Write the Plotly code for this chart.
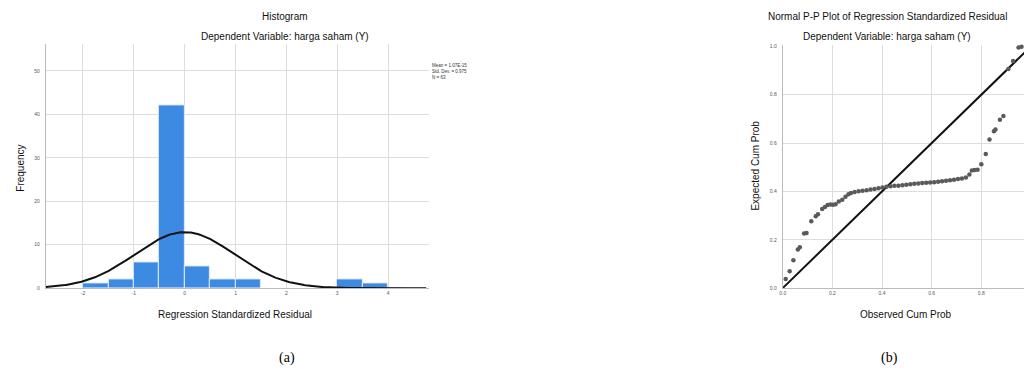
import numpy as np
import plotly.graph_objects as go

# ---- Histogram of standardized residuals ----
bin_left = [-2.0, -1.5, -1.0, -0.5, 0.0, 0.5, 1.0, 3.0, 3.5]
bin_counts = [1, 2, 6, 42, 5, 2, 2, 2, 1]
bin_width = 0.5
resid_mean = 0.0
resid_sd = 0.975
n_obs = 63
hist_xticks = [-2, -1, 0, 1, 2, 3, 4]
hist_yticks = [0, 10, 20, 30, 40, 50]

# ---- Normal P-P plot ----
observed_cum = [0.012, 0.028, 0.043, 0.061, 0.069, 0.086, 0.096, 0.115, 0.133, 0.142,
                0.159, 0.170, 0.181, 0.192, 0.203, 0.213, 0.226, 0.240, 0.253, 0.265,
                0.275, 0.290, 0.306, 0.322, 0.338, 0.354, 0.370, 0.386, 0.402, 0.418,
                0.434, 0.450, 0.466, 0.482, 0.498, 0.514, 0.530, 0.546, 0.562, 0.578,
                0.594, 0.610, 0.626, 0.642, 0.658, 0.674, 0.690, 0.706, 0.722, 0.738,
                0.752, 0.762, 0.773, 0.785, 0.800, 0.818, 0.833, 0.851, 0.857, 0.875,
                0.889, 0.909, 0.928, 0.950, 0.962, 0.975, 0.990]
expected_cum = [0.038, 0.070, 0.115, 0.160, 0.169, 0.226, 0.228, 0.277, 0.297, 0.306,
                0.327, 0.336, 0.344, 0.346, 0.345, 0.347, 0.358, 0.366, 0.378, 0.388,
                0.394, 0.398, 0.401, 0.403, 0.405, 0.408, 0.410, 0.413, 0.416, 0.419,
                0.421, 0.423, 0.424, 0.426, 0.428, 0.430, 0.432, 0.433, 0.435, 0.436,
                0.437, 0.438, 0.440, 0.442, 0.444, 0.446, 0.448, 0.451, 0.454, 0.458,
                0.470, 0.487, 0.489, 0.490, 0.512, 0.555, 0.615, 0.649, 0.656, 0.697,
                0.712, 0.906, 0.940, 0.995, 0.998, 1.000, 1.000]
pp_ticks = [0.0, 0.2, 0.4, 0.6, 0.8, 1.0]
pp_ticklabels = ["0.0", "0.2", "0.4", "0.6", "0.8", "1.0"]

W, H = 1024, 376
def px(x):
    return x / W
def py(y):
    return 1 - y / H

fig = go.Figure()

# histogram bars
bin_centers = [b + bin_width / 2 for b in bin_left]
fig.add_trace(go.Bar(
    x=bin_centers, y=bin_counts, width=bin_width,
    marker=dict(color="#3d8ae3", line=dict(color="#dfeaf8", width=1)),
    xaxis="x", yaxis="y", showlegend=False,
))

# fitted normal curve
xs = np.linspace(-2.73, 4.75, 300)
curve = n_obs * bin_width / (resid_sd * np.sqrt(2 * np.pi)) * np.exp(-0.5 * ((xs - resid_mean) / resid_sd) ** 2)
fig.add_trace(go.Scatter(
    x=xs, y=curve, mode="lines", line=dict(color="#111111", width=2),
    xaxis="x", yaxis="y", showlegend=False, cliponaxis=False,
))

# P-P reference diagonal
fig.add_trace(go.Scatter(
    x=[0, 1], y=[0, 1], mode="lines", line=dict(color="#111111", width=2),
    xaxis="x2", yaxis="y2", showlegend=False,
))
# P-P points
fig.add_trace(go.Scatter(
    x=observed_cum, y=expected_cum, mode="markers",
    marker=dict(color="#5a5a5a", size=4.5, line=dict(width=0)),
    xaxis="x2", yaxis="y2", showlegend=False, cliponaxis=False,
))

tick_font = dict(family="Liberation Sans, Arial, sans-serif", size=5, color="#555555")
grid = "#dddddd"

fig.update_layout(
    width=W, height=H,
    margin=dict(l=0, r=0, t=0, b=0),
    paper_bgcolor="white", plot_bgcolor="white",
    bargap=0,
    font=dict(family="Liberation Sans, Arial, sans-serif", color="#111111"),
    xaxis=dict(
        domain=[px(43), px(427)], range=[-2.73, 4.8],
        tickvals=hist_xticks, ticktext=[str(t) for t in hist_xticks],
        tickfont=tick_font, showgrid=True, gridcolor=grid, gridwidth=1,
        zeroline=False, showline=True, linecolor="#bbbbbb", linewidth=1,
        ticks="", anchor="y", fixedrange=True,
    ),
    yaxis=dict(
        domain=[py(290), py(43)], range=[0, 56.1],
        tickvals=hist_yticks, ticktext=[str(t) for t in hist_yticks],
        tickfont=tick_font, showgrid=True, gridcolor=grid, gridwidth=1,
        zeroline=False, showline=True, linecolor="#bbbbbb", linewidth=1,
        ticks="", anchor="x", ticklabelstandoff=4,
    ),
    xaxis2=dict(
        domain=[px(782), 1.0], range=[0, 0.972],
        tickvals=pp_ticks, ticktext=pp_ticklabels,
        tickfont=tick_font, showgrid=True, gridcolor=grid, gridwidth=1,
        zeroline=False, showline=True, linecolor="#bbbbbb", linewidth=1,
        ticks="", anchor="y2",
    ),
    yaxis2=dict(
        domain=[py(290), py(44)], range=[0, 1.004],
        tickvals=pp_ticks, ticktext=pp_ticklabels,
        tickfont=tick_font, showgrid=True, gridcolor=grid, gridwidth=1,
        zeroline=False, showline=True, linecolor="#bbbbbb", linewidth=1,
        ticks="", anchor="x2", ticklabelstandoff=4,
    ),
)

title_font = dict(family="Liberation Sans, Arial, sans-serif", size=10, color="#111111")
axis_title_font = dict(family="Liberation Sans, Arial, sans-serif", size=10, color="#111111")

annotations = [
    dict(text="Histogram", x=px(283), y=py(15), font=title_font),
    dict(text="Dependent Variable: harga saham (Y)", x=px(283), y=py(35), font=title_font),
    dict(text="Regression Standardized Residual", x=px(233), y=py(317), font=axis_title_font),
    dict(text="Frequency", x=px(18), y=py(168), textangle=-90, font=axis_title_font),
    dict(text="Mean = 1.07E-15<br>Std. Dev. = 0.975<br>N = %d" % n_obs,
         x=px(428), y=py(60), xanchor="left", yanchor="top", align="left",
         font=dict(family="Liberation Sans, Arial, sans-serif", size=4.5, color="#333333")),
    dict(text="Normal P-P Plot of Regression Standardized Residual", x=px(887), y=py(15), font=title_font),
    dict(text="Dependent Variable: harga saham (Y)", x=px(887), y=py(35), font=title_font),
    dict(text="Observed Cum Prob", x=px(906), y=py(317), font=axis_title_font),
    dict(text="Expected Cum Prob", x=px(755), y=py(166), textangle=-90, font=axis_title_font),
    dict(text="(a)", x=px(285), y=py(361),
         font=dict(family="Liberation Serif, Times New Roman, serif", size=14, color="#000000")),
    dict(text="(b)", x=px(889), y=py(361),
         font=dict(family="Liberation Serif, Times New Roman, serif", size=14, color="#000000")),
]
for a in annotations:
    a.setdefault("xref", "paper")
    a.setdefault("yref", "paper")
    a.setdefault("showarrow", False)
    a.setdefault("xanchor", "center")
    a.setdefault("yanchor", "middle")
fig.update_layout(annotations=annotations)

fig.write_html("out.html")
